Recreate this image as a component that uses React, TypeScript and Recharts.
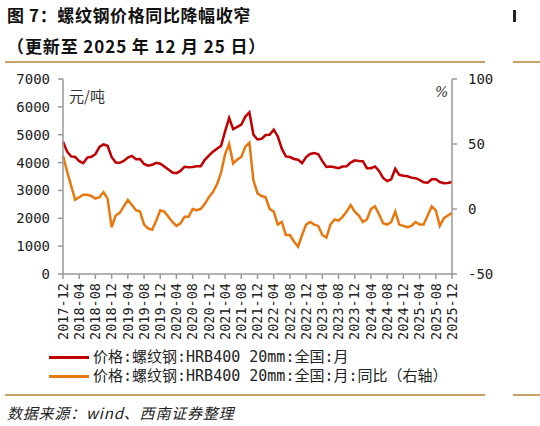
import React from "react";
import { LineChart, Line, XAxis, YAxis } from "recharts";

// 2017-12 .. 2025-12, monthly
const months: string[] = [];
for (let y = 2017; y <= 2025; y++) {
  for (let m = 1; m <= 12; m++) {
    if (y === 2017 && m < 12) continue;
    months.push(`${y}-${String(m).padStart(2, "0")}`);
  }
}

// 价格:螺纹钢:HRB400 20mm:全国:月 (元/吨)
const price = [
  4750, 4400, 4220, 4200, 4050, 3980, 4180, 4210, 4300, 4560, 4650, 4600,
  4200, 4000, 3990, 4060, 4180, 4240, 4120, 4130, 3950, 3890, 3920, 3990,
  3960, 3860, 3750, 3640, 3620, 3700, 3850, 3830, 3840, 3870, 3870, 4100,
  4250, 4390, 4500, 4600, 5120, 5600, 5200, 5280, 5360, 5650, 5800, 5000,
  4830, 4850, 4990, 5000, 5180, 4940, 4500, 4220, 4200, 4130, 4100, 3980,
  4200, 4310, 4340, 4300, 4050, 3840, 3860, 3830, 3800, 3860, 3870, 4000,
  4080, 4060, 4050, 3800, 3800, 3860, 3700, 3450, 3340, 3400, 3780, 3560,
  3530, 3510, 3460, 3440, 3380, 3290, 3280, 3400, 3400, 3300, 3260, 3270,
  3300,
];

// 同比 (%)
const yoy = [
  41, 29, 18, 7, 9, 11, 11, 10, 8, 9, 13, 8,
  -14, -5, -3, 2, 7, 3, -1, -2, -12, -15, -16, -9,
  -1, -2, -6, -10, -13, -11, -6, -6, 0, -1, 0, 4,
  9, 13, 19, 28, 42, 50, 35, 38, 40, 48, 51, 22,
  12, 10, 9, 0, -2, -12, -10, -20, -20, -25, -29, -20,
  -12, -10, -12, -13, -20, -22, -12, -8, -9, -6, -2, 3,
  -2, -5, -10, -8, 0, 2, -4, -11, -12, -10, -2, -12,
  -13, -14, -13, -10, -12, -12, -5, 2, -1, -13, -7, -5,
  -3,
];

const leftTicks = [0, 1000, 2000, 3000, 4000, 5000, 6000, 7000];
const rightTicks = [-50, 0, 50, 100];

const data = months.map((m, i) => ({ month: m, price: price[i], yoy: yoy[i] }));

const RED = "#C00000";
const ORANGE = "#E8770E";
const RULE = "#C9A063";
const AXIS = "#999999";
const MONO = "'DejaVu Sans Mono', 'Noto Sans CJK SC', monospace";
const CJK = "'Noto Sans CJK SC', 'DejaVu Sans', sans-serif";

const MonthTick = (props: any) => {
  const { x, y, payload } = props;
  return (
    <text
      x={x}
      y={y}
      transform={`rotate(-90 ${x} ${y})`}
      textAnchor="end"
      dy="0.35em"
      fontSize={13.5}
      fontFamily={MONO}
      fill="#222"
    >
      {payload.value}
    </text>
  );
};

const abs = (left: number, top: number): React.CSSProperties => ({
  position: "absolute",
  left,
  top,
  whiteSpace: "nowrap",
  lineHeight: 1,
});

export default function App() {
  return (
    <div style={{ position: "absolute", left: 0, top: 0, width: 540, height: 426, background: "#fff", overflow: "hidden" }}>
      <div style={{ ...abs(7, 6), fontFamily: CJK, fontWeight: 700, fontSize: 17, color: "#111", letterSpacing: 0.6 }}>
        图 7：螺纹钢价格同比降幅收窄
      </div>
      <div style={{ ...abs(7, 37), fontFamily: CJK, fontWeight: 700, fontSize: 17, color: "#111", letterSpacing: 0.9 }}>
        （更新至 2025 年 12 月 25 日）
      </div>
      <div style={{ position: "absolute", left: 5, top: 61, width: 480, height: 2, background: RULE }} />
      <div style={{ position: "absolute", left: 513, top: 61, width: 27, height: 2, background: RULE }} />
      <div style={{ position: "absolute", left: 513, top: 10, width: 3, height: 12, background: "#222" }} />

      <LineChart
        width={540}
        height={426}
        data={data}
        margin={{ top: 79, right: 38, bottom: 77, left: 0 }}
        style={{ position: "absolute", left: 0, top: 0 }}
      >
        <XAxis
          dataKey="month"
          interval={3}
          height={75}
          tick={<MonthTick />}
          tickSize={5}
          tickMargin={4}
          axisLine={{ stroke: AXIS, strokeWidth: 1.5 }}
          tickLine={{ stroke: AXIS, strokeWidth: 1.5 }}
        />
        <YAxis
          yAxisId="left"
          width={63}
          domain={[0, 7000]}
          ticks={leftTicks}
          tickSize={5}
          tickMargin={8}
          tick={{ fontSize: 14, fontFamily: MONO, fill: "#222" }}
          axisLine={{ stroke: AXIS, strokeWidth: 1.5 }}
          tickLine={{ stroke: AXIS, strokeWidth: 1.5 }}
        />
        <YAxis
          yAxisId="right"
          orientation="right"
          width={50}
          domain={[-50, 100]}
          ticks={rightTicks}
          tickSize={5}
          tickMargin={11}
          tick={{ fontSize: 14, fontFamily: MONO, fill: "#222" }}
          axisLine={{ stroke: AXIS, strokeWidth: 1.5 }}
          tickLine={{ stroke: AXIS, strokeWidth: 1.5 }}
        />
        <Line
          yAxisId="right"
          dataKey="yoy"
          stroke={ORANGE}
          strokeWidth={2.5}
          dot={false}
          isAnimationActive={false}
        />
        <Line
          yAxisId="left"
          dataKey="price"
          stroke={RED}
          strokeWidth={2.5}
          dot={false}
          isAnimationActive={false}
        />
      </LineChart>

      <div style={{ ...abs(69, 88), fontFamily: CJK, fontSize: 15, color: "#333" }}>元/吨</div>
      <div style={{ ...abs(435, 85), fontFamily: "'DejaVu Serif', serif", fontStyle: "italic", fontSize: 14, color: "#333" }}>%</div>

      {[
        { color: RED, label: "价格:螺纹钢:HRB400 20mm:全国:月", top: 350 },
        { color: ORANGE, label: "价格:螺纹钢:HRB400 20mm:全国:月:同比（右轴）", top: 369 },
      ].map((item) => (
        <div key={item.label} style={{ ...abs(49, item.top), display: "flex", alignItems: "center" }}>
          <span style={{ display: "inline-block", width: 40, height: 3, background: item.color, marginRight: 4 }} />
          <span style={{ fontFamily: MONO, fontSize: 15, color: "#222" }}>{item.label}</span>
        </div>
      ))}

      <div style={{ position: "absolute", left: 5, top: 394, width: 480, height: 2, background: RULE }} />
      <div style={{ position: "absolute", left: 513, top: 394, width: 27, height: 2, background: RULE }} />
      <div style={{ ...abs(7, 405), fontFamily: CJK, fontStyle: "italic", fontSize: 15, color: "#222", letterSpacing: 0.8 }}>
        数据来源：wind、西南证券整理
      </div>
    </div>
  );
}
